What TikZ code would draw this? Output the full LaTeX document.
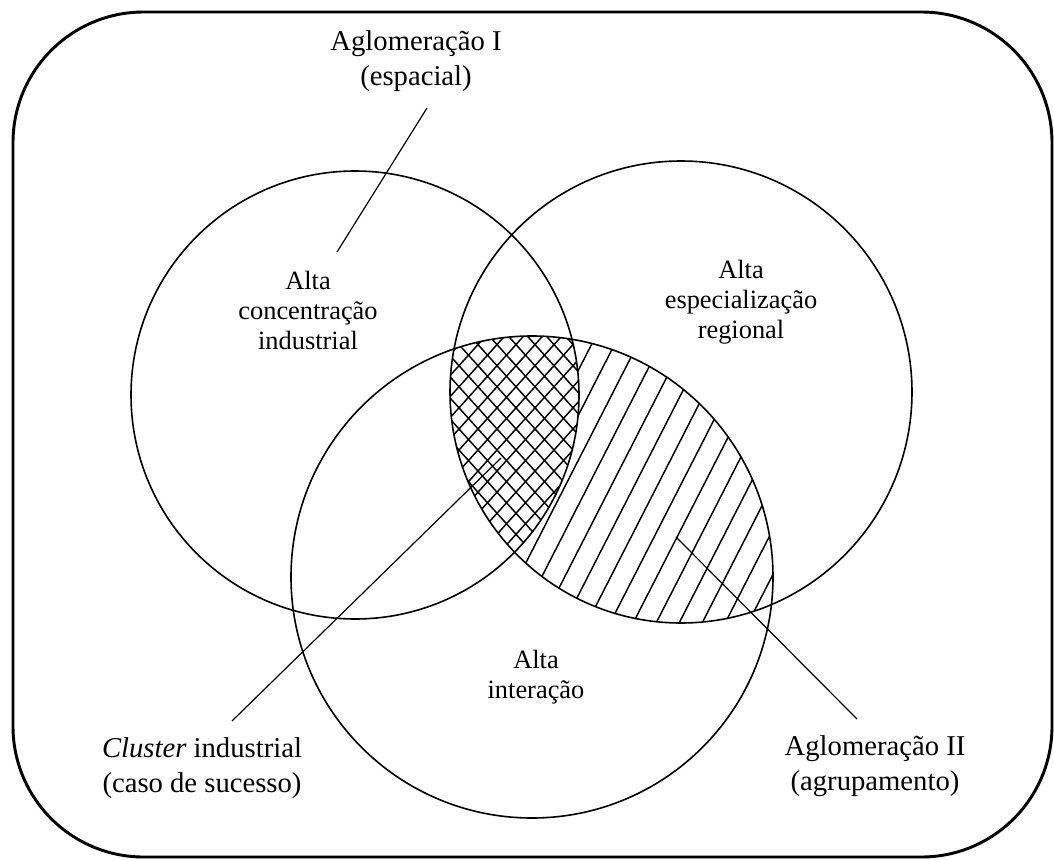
\documentclass[tikz,border=0pt]{standalone}
\usepackage{fontspec}
\setmainfont{Liberation Serif}
\begin{document}
\begin{tikzpicture}[x=0.75pt,y=-0.75pt,
  circ/.style={line width=1.2pt},
  hatch/.style={line width=1.1pt},
  leader/.style={line width=0.9pt},
  frame/.style={line width=2.2pt, rounded corners=98pt},
  bigtxt/.style={align=center, inner sep=0pt, font=\fontsize{21.5pt}{26pt}\selectfont},
  smalltxt/.style={align=center, inner sep=0pt, font=\fontsize{19.8pt}{22.5pt}\selectfont}]
\useasboundingbox (0,0) rectangle (1054,860);
% frame
\draw[frame] (13,12) rectangle (1052,857);
% single hatching: (B and C) minus A
\begin{scope}
  \clip (681,392) circle [radius=231];
  \clip (532,577) circle [radius=241];
  \foreach \c in {305,328,...,1000} {
    \draw[hatch] ({\c-182},856) -- ({\c+182},144);
  }
\end{scope}
% cross hatching: A and B and C
\begin{scope}
  \clip (355,395) circle [radius=224];
  \clip (681,392) circle [radius=231];
  \clip (532,577) circle [radius=241];
  \fill[white] (0,0) rectangle (1054,860);
  \foreach \c in {250,269,...,800} {
    \draw[hatch] ({\c-201},673) -- ({\c+201},227);
    \draw[hatch] ({\c-201},227) -- ({\c+201},673);
  }
\end{scope}
% circles
\draw[circ] (355,395) circle [radius=224];
\draw[circ] (681,392) circle [radius=231];
\draw[circ] (532,577) circle [radius=241];
% labels
\node[bigtxt] (ag1) at (416,61) {Aglomeração I\\(espacial)};
\node[smalltxt] (conc) at (308,310) {Alta\\concentração\\industrial};
\node[smalltxt] (espec) at (741,302) {Alta\\especialização\\regional};
\node[smalltxt] (inter) at (536,677) {Alta\\interação};
\node[bigtxt] (clus) at (202,768) {\textit{Cluster} industrial\\(caso de sucesso)};
\node[bigtxt] (ag2) at (875,766) {Aglomeração II\\(agrupamento)};
% leader lines
\coordinate (l1a) at (427,108);
\coordinate (l1b) at (337,252);
\coordinate (l2a) at (232,721);
\coordinate (l2b) at (501,458);
\coordinate (l3a) at (676,537);
\coordinate (l3b) at (857,719);
\draw[leader] (l1a) -- (l1b);
\draw[leader] (l2a) -- (l2b);
\draw[leader] (l3a) -- (l3b);
\end{tikzpicture}
\end{document}
